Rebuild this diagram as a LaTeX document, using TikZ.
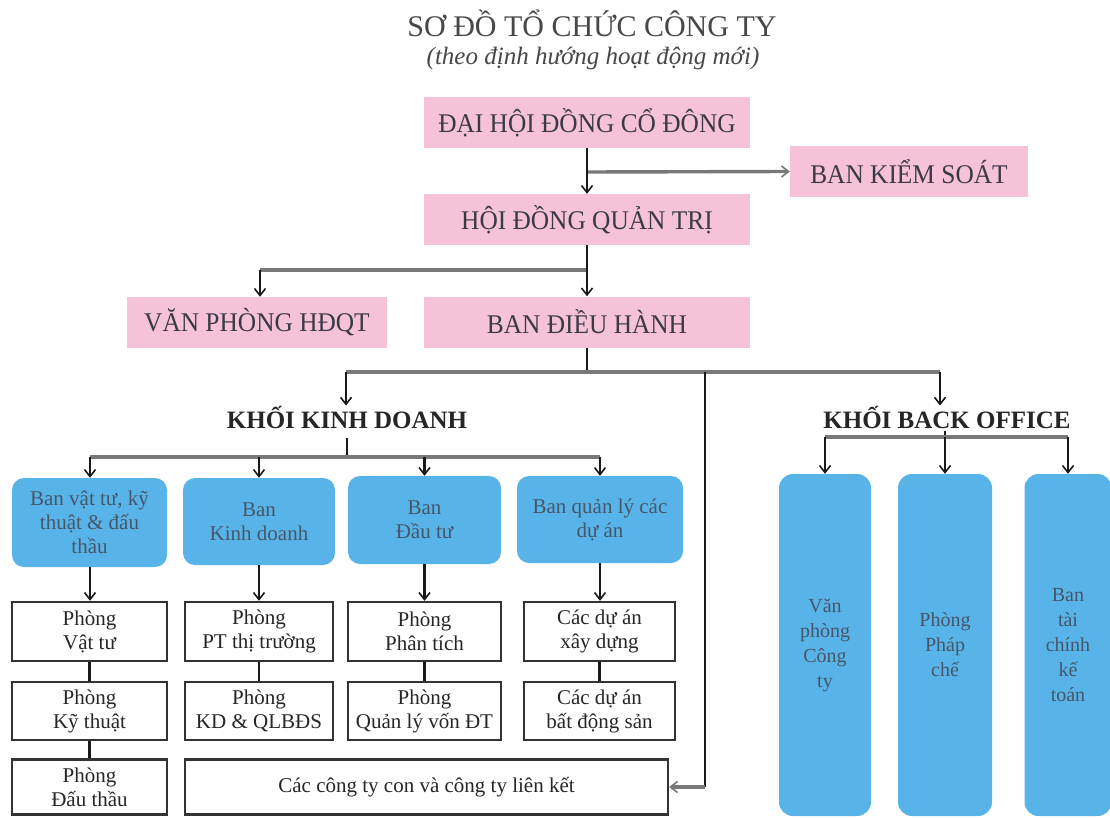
\documentclass[tikz,border=0pt]{standalone}
\usepackage{fontspec}
\setmainfont{Liberation Serif}
\newfontfamily\condf[FakeStretch=0.94]{Liberation Serif}
\usetikzlibrary{arrows.meta,positioning}
\definecolor{pinkf}{HTML}{F5C2D7}
\definecolor{bluef}{HTML}{58B4E8}
\definecolor{txtgray}{HTML}{3A3A46}
\definecolor{bluetxt}{HTML}{46566A}
\definecolor{hgray}{HTML}{787878}
\definecolor{boxedge}{HTML}{333333}
\tikzset{
  pinkbox/.style={fill=pinkf, draw=none, minimum height=51pt, inner sep=0pt,
    font=\condf\fontsize{27}{30}\selectfont, text=txtgray},
  bluebox/.style={fill=bluef, draw=none, rounded corners=12pt, inner sep=0pt,
    align=center, font=\fontsize{21}{24}\selectfont, text=bluetxt},
  whitebox/.style={fill=white, draw=boxedge, line width=2.4pt, inner sep=0pt,
    align=center, font=\fontsize{21}{24}\selectfont, text=black!85},
  bobox/.style={fill=bluef, draw=none, rounded corners=14pt, inner sep=0pt,
    align=center, font=\fontsize{20}{25}\selectfont, text=bluetxt,
    minimum height=342pt},
  headtxt/.style={font=\bfseries\fontsize{25}{30}\selectfont, text=black!85, inner sep=0pt},
  vline/.style={draw=black!90, line width=2.2pt},
  hline/.style={draw=hgray, line width=3.4pt},
  tip/.style={-{Straight Barb[length=7pt,width=11pt,line width=1.6pt]}},
}
\begin{document}
\begin{tikzpicture}[x=1pt,y=-1pt]
\useasboundingbox[fill=white] (0,0) rectangle (1110,818);

% titles
\node[font=\fontsize{30}{34}\selectfont, text=black!72] (title) at (592,23) {SƠ ĐỒ TỔ CHỨC CÔNG TY};
\node[font=\itshape\fontsize{25}{28}\selectfont, text=black!72] (subtitle) at (593,58) {(theo định hướng hoạt động mới)};

% pink boxes
\node[pinkbox, minimum width=326pt] (dhd) at (587,122.5) {ĐẠI HỘI ĐỒNG CỔ ĐÔNG};
\node[pinkbox, minimum width=238pt] (bks) at (909,171.5) {BAN KIỂM SOÁT};
\node[pinkbox, minimum width=326pt] (hdqt) at (587,219.5) {HỘI ĐỒNG QUẢN TRỊ};
\node[pinkbox, minimum width=260pt] (vp) at (257,322.5) {VĂN PHÒNG HĐQT};
\node[pinkbox, minimum width=326pt] (bdh) at (587,322) {BAN ĐIỀU HÀNH};

% headings
\node[headtxt] (kkd) at (347,417) {KHỐI KINH DOANH};
\node[headtxt] (kbo) at (947,417) {KHỐI BACK OFFICE};

% blue boxes
\node[bluebox, minimum width=155pt, minimum height=89pt] (b1) at (89.5,522.5) {Ban vật tư, kỹ\\thuật \& đấu\\thầu};
\node[bluebox, minimum width=152pt, minimum height=87pt] (b2) at (259,521.5) {Ban\\Kinh doanh};
\node[bluebox, minimum width=153pt, minimum height=88pt] (b3) at (424.5,520) {Ban\\Đầu tư};
\node[bluebox, minimum width=166pt, minimum height=87pt] (b4) at (600,519.5) {Ban quản lý các\\dự án};

% white boxes row 1
\node[whitebox, minimum width=155pt, minimum height=59pt] (w11) at (89.5,631.5) {Phòng\\Vật tư};
\node[whitebox, minimum width=148pt, minimum height=59pt] (w21) at (259,631.5) {Phòng\\PT thị trường};
\node[whitebox, minimum width=153pt, minimum height=59pt] (w31) at (424.5,631.5) {Phòng\\Phân tích};
\node[whitebox, minimum width=151pt, minimum height=59pt] (w41) at (599.5,631.5) {Các dự án\\xây dựng};
% row 2
\node[whitebox, minimum width=155pt, minimum height=58pt] (w12) at (89.5,711) {Phòng\\Kỹ thuật};
\node[whitebox, minimum width=148pt, minimum height=58pt] (w22) at (259,711) {Phòng\\KD \& QLBĐS};
\node[whitebox, minimum width=153pt, minimum height=58pt] (w32) at (424.5,711) {Phòng\\Quản lý vốn ĐT};
\node[whitebox, minimum width=151pt, minimum height=58pt] (w42) at (599.5,711) {Các dự án\\bất động sản};
% row 3
\node[whitebox, minimum width=155pt, minimum height=55pt] (w13) at (89.5,787) {Phòng\\Đấu thầu};
\node[whitebox, minimum width=483pt, minimum height=55pt] (cty) at (426.5,787) {Các công ty con và công ty liên kết};

% back office boxes
\node[bobox, minimum width=92pt] (bo1) at (825,645) {Văn\\phòng\\Công\\ty};
\node[bobox, minimum width=94pt] (bo2) at (945,645) {Phòng\\Pháp\\chế};
\node[bobox, minimum width=87pt] (bo3) at (1068,645) {Ban\\tài\\chính\\kế\\toán};

% coordinates
\coordinate (j1) at (587,172);
\coordinate (j2) at (587,270);
\coordinate (j2l) at (260,270);
\coordinate (j3) at (587,372);
\coordinate (j3l) at (346,372);
\coordinate (j3r) at (940,372);
\coordinate (j3m) at (705,372);
\coordinate (j3b) at (705,787);
\coordinate (k1) at (347,457);
\coordinate (k1a) at (347,438);
\coordinate (kL) at (90,457);
\coordinate (kR) at (600,457);
\coordinate (m1) at (945,437);
\coordinate (m1a) at (945,431);
\coordinate (mL) at (825,437);
\coordinate (mR) at (1068,437);

% top connectors
\draw[hline, tip] (j1) -- (bks.west);
\draw[vline, tip] (dhd.south) -- (hdqt.north);
\draw[hline] (j2) -- (j2l);
\draw[vline, tip] (j2l) -- (vp.north -| j2l);
\draw[vline, tip] (hdqt.south) -- (bdh.north);
\draw[vline] (bdh.south) -- (j3);
\draw[hline] (j3l) -- (j3r);
\draw[vline, tip] (j3l) -- (kkd.north -| j3l);
\draw[vline, tip] (j3r) -- (kbo.north -| j3r);
\draw[vline] (j3m) -- (j3b);
\draw[hline, tip] (j3b) -- (cty.east);

% khoi kinh doanh
\draw[vline] (k1a) -- (k1);
\draw[hline] (kL) -- (kR);
\draw[vline, tip] (kL) -- (b1.north -| kL);
\draw[vline, tip] (b2.north |- k1) -- (b2.north);
\draw[vline, tip] (b3.north |- k1) -- (b3.north);
\draw[vline, tip] (kR) -- (b4.north -| kR);
\draw[vline, tip] (b1.south -| kL) -- (w11.north -| kL);
\draw[vline, tip] (b2.south) -- (w21.north);
\draw[vline, tip] (b3.south) -- (w31.north);
\draw[vline, tip] (b4.south -| kR) -- (w41.north -| kR);
\draw[vline] (w11.south) -- (w12.north);
\draw[vline] (w12.south) -- (w13.north);
\draw[vline] (w21.south) -- (w22.north);
\draw[vline] (w31.south) -- (w32.north);
\draw[vline] (w41.south) -- (w42.north);

% back office
\draw[vline] (m1a) -- (m1);
\draw[hline] (mL) -- (mR);
\draw[vline, tip] (mL) -- (bo1.north);
\draw[vline, tip] (m1) -- (bo2.north);
\draw[vline, tip] (mR) -- (bo3.north);
\end{tikzpicture}
\end{document}
